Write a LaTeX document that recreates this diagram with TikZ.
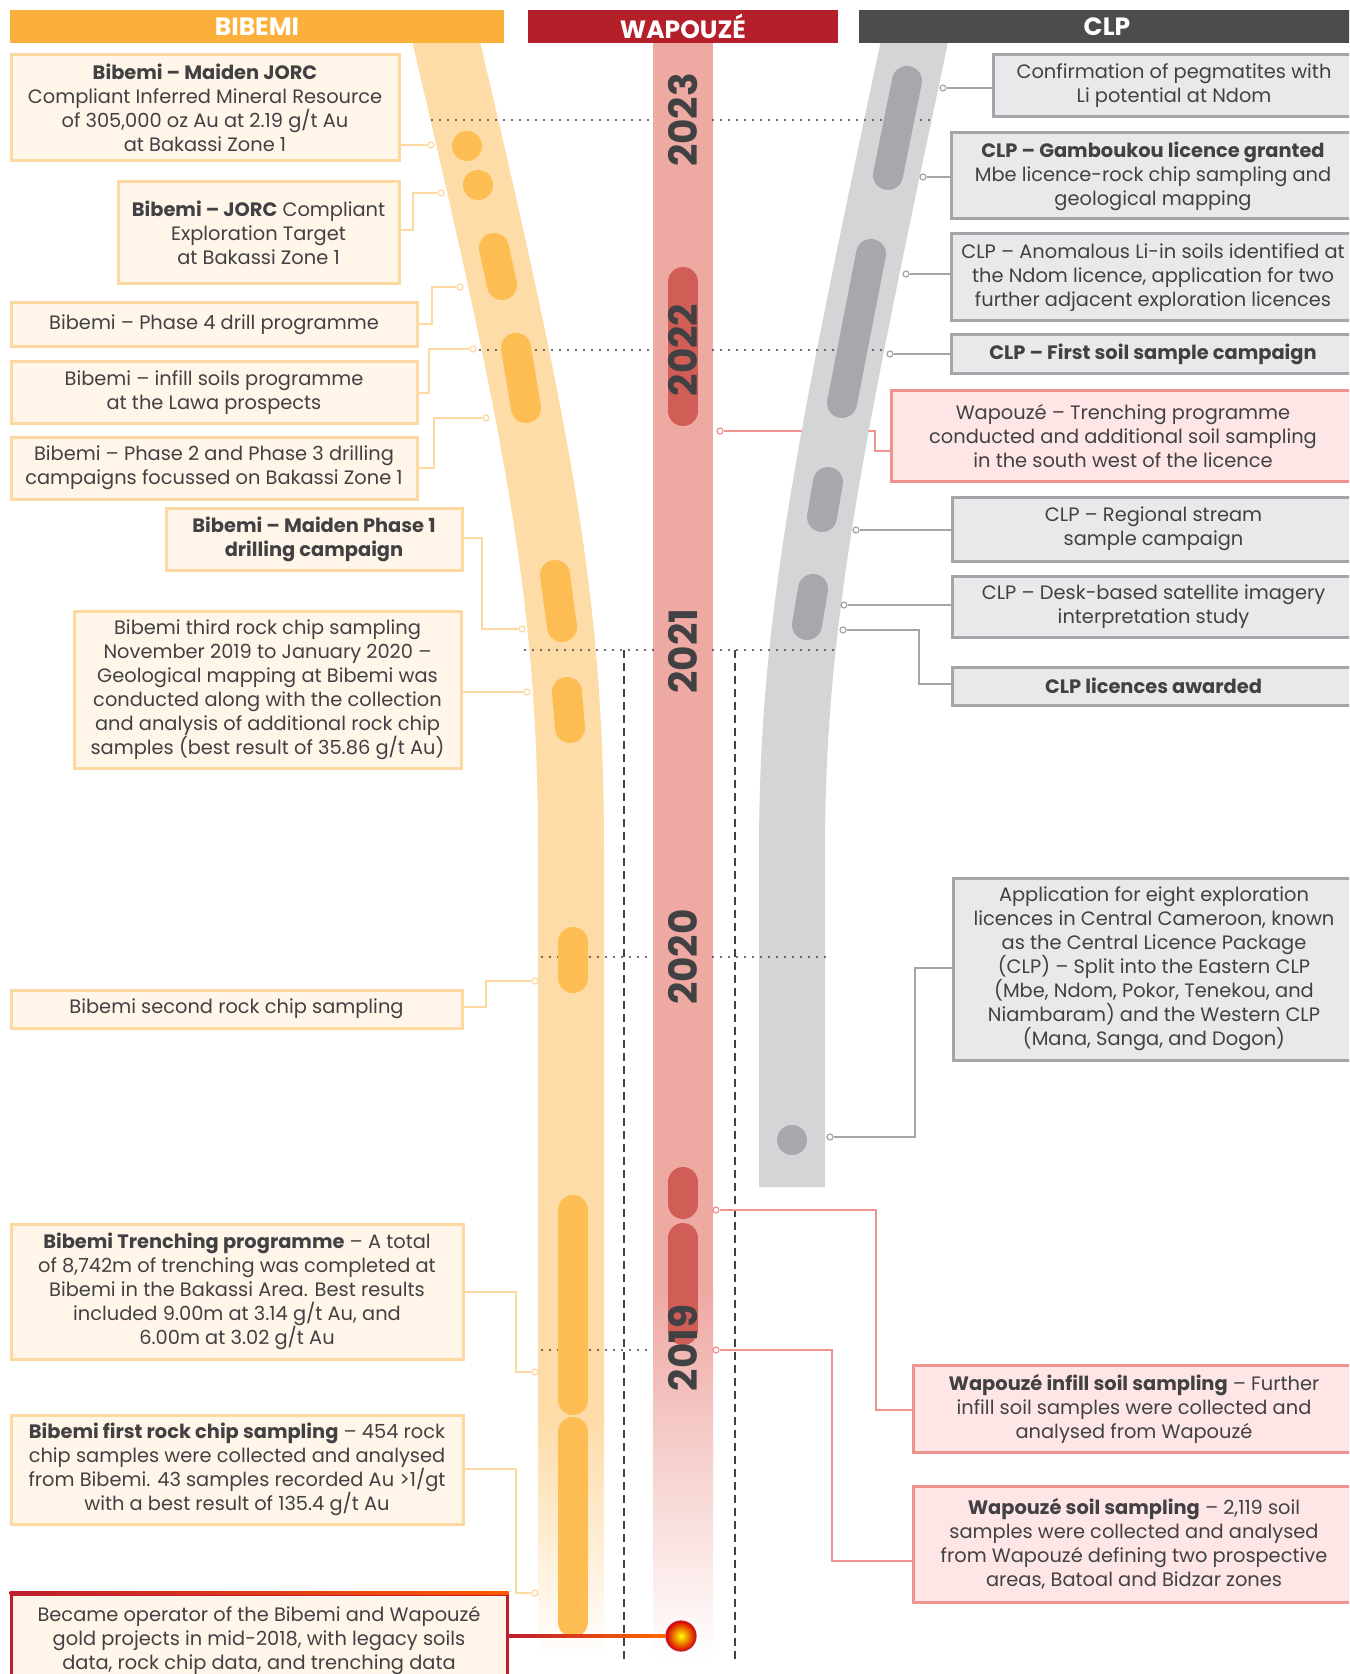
\documentclass[tikz,border=0pt]{standalone}
\usepackage{fontspec}
\setmainfont{Poppins}
\usetikzlibrary{calc}
\definecolor{cO}{HTML}{FBB03B}
\definecolor{cW}{HTML}{B41F29}
\definecolor{cG}{HTML}{4B4C4E}
\definecolor{bandO}{HTML}{FEDCA8}
\definecolor{capO}{HTML}{FDBD52}
\definecolor{bandR}{HTML}{EEA9A3}
\definecolor{capR}{HTML}{D15E56}
\definecolor{bandG}{HTML}{D4D5D7}
\definecolor{capG}{HTML}{A6A8AB}
\definecolor{fO}{HTML}{FFF5E9}
\definecolor{lO}{HTML}{FDD9A1}
\definecolor{fR}{HTML}{FDE6E5}
\definecolor{lR}{HTML}{EE938D}
\definecolor{fG}{HTML}{E8E9EB}
\definecolor{lG}{HTML}{A3A5A8}
\definecolor{txt}{HTML}{414042}
\definecolor{cDR}{HTML}{BE1E2D}
\newcommand\bx[7]{\node[#6, minimum width={(#4-#2)*0.5pt}, minimum height={(#5-#3)*0.5pt}] (#1) at ({(#2+#4)/2},{(#3+#5)/2}) {#7};}
\begin{document}
\begin{tikzpicture}[x=0.5pt,y=-0.5pt,
 box/.style={draw, line width=1.5pt, inner sep=0pt, align=center, text=txt, font=\fontsize{9.7}{12}\selectfont},
 obox/.style={box, fill=fO, draw=lO},
 gbox/.style={box, fill=fG, draw=lG},
 pbox/.style={box, fill=fR, draw=lR},
 hdr/.style={inner sep=0pt, text=white, font=\fontsize{12.5}{13}\selectfont\bfseries},
 con/.style={line width=0.75pt},
 ocon/.style={con, draw=lO},
 gcon/.style={con, draw=lG},
 pcon/.style={con, draw=lR},
 dotn/.style={circle, inner sep=0pt, minimum size=3pt, fill=white, line width=0.6pt},
 odot/.style={dotn, draw=lO},
 gdot/.style={dotn, draw=lG},
 pdot/.style={dotn, draw=lR},
 capsule/.style={line width=15pt, line cap=round},
 yr/.style={rotate=90, text=txt, font=\fontsize{19.5}{19.5}\selectfont\bfseries, inner sep=0pt},
 dotline/.style={line width=1.2pt, line cap=round, dash pattern=on 0pt off 4pt, draw=txt},
 dsh/.style={line width=1pt, dash pattern=on 4pt off 2.5pt, draw=txt}
]
\clip (0,0) rectangle (1349,1674);
\fill[white] (0,0) rectangle (1349,1674);

% ---------- Bibemi boxes
\bx{L1}{11}{55}{399}{161}{obox}{\textbf{Bibemi – Maiden JORC}\\Compliant Inferred Mineral Resource\\of 305,000 oz Au at 2.19 g/t Au\\at Bakassi Zone 1}
\bx{L2}{118}{182}{399}{284}{obox}{\textbf{Bibemi – JORC} Compliant\\Exploration Target\\at Bakassi Zone 1}
\bx{L3}{11}{303}{417}{347}{obox}{Bibemi – Phase 4 drill programme}
\bx{L4}{11}{362}{417}{423}{obox}{Bibemi – infill soils programme\\at the Lawa prospects}
\bx{L5}{11}{437}{417}{499}{obox}{Bibemi – Phase 2 and Phase 3 drilling\\campaigns focussed on Bakassi Zone 1}
\bx{L6}{166}{508}{462}{570}{obox}{\textbf{Bibemi – Maiden Phase 1}\\\textbf{drilling campaign}}
\bx{L7}{74}{611}{461}{768}{obox}{Bibemi third rock chip sampling\\November 2019 to January 2020 –\\Geological mapping at Bibemi was\\conducted along with the collection\\and analysis of additional rock chip\\samples (best result of 35.86 g/t Au)}
\bx{L8}{11}{990}{462}{1028}{obox}{Bibemi second rock chip sampling}
\bx{L9}{11}{1224}{463}{1359}{obox}{\textbf{Bibemi Trenching programme} – A total\\of 8,742m of trenching was completed at\\Bibemi in the Bakassi Area. Best results\\included 9.00m at 3.14 g/t Au, and\\6.00m at 3.02 g/t Au}
\bx{L10}{11}{1415}{463}{1524}{obox}{\textbf{Bibemi first rock chip sampling} – 454 rock\\chip samples were collected and analysed\\from Bibemi. 43 samples recorded Au >1/gt\\with a best result of 135.4 g/t Au}
\bx{L11}{11}{1594}{507}{1688}{obox, draw=cDR}{Became operator of the Bibemi and Wapouzé\\gold projects in mid-2018, with legacy soils\\data, rock chip data, and trenching data}
\shade[left color=cDR, middle color=yellow!80!orange, right color=orange!70!red] ($(L11.north west)+(0,-1.5)$) rectangle ($(L11.north east)+(0,1.5)$);

% ---------- right boxes
\bx{R1}{993}{55}{1355}{117}{gbox}{Confirmation of pegmatites with\\Li potential at Ndom}
\bx{R2}{951}{133}{1355}{219}{gbox}{\textbf{CLP – Gamboukou licence granted}\\Mbe licence-rock chip sampling and\\geological mapping}
\bx{R3}{951}{234}{1355}{321}{gbox}{CLP – Anomalous Li-in soils identified at\\the Ndom licence, application for two\\further adjacent exploration licences}
\bx{R4}{951}{335}{1355}{373}{gbox}{\textbf{CLP – First soil sample campaign}}
\bx{R5}{891}{390}{1355}{481}{pbox}{Wapouzé – Trenching programme\\conducted and additional soil sampling\\in the south west of the licence}
\bx{R6}{952}{497}{1355}{561}{gbox}{CLP – Regional stream\\sample campaign}
\bx{R7}{952}{576}{1355}{637}{gbox}{CLP – Desk-based satellite imagery\\interpretation study}
\bx{R8}{952}{667}{1355}{705}{gbox}{\textbf{CLP licences awarded}}
\bx{R9}{953}{878}{1355}{1060}{gbox}{Application for eight exploration\\licences in Central Cameroon, known\\as the Central Licence Package\\(CLP) – Split into the Eastern CLP\\(Mbe, Ndom, Pokor, Tenekou, and\\Niambaram) and the Western CLP\\(Mana, Sanga, and Dogon)}
\bx{R10}{913}{1365}{1355}{1452}{pbox}{\textbf{Wapouzé infill soil sampling} – Further\\infill soil samples were collected and\\analysed from Wapouzé}
\bx{R11}{913}{1486}{1355}{1602}{pbox}{\textbf{Wapouzé soil sampling} – 2,119 soil\\samples were collected and analysed\\from Wapouzé defining two prospective\\areas, Batoal and Bidzar zones}

% connector behind grey band
\node[pdot] (p5) at (720,431) {};
\draw[pcon] (R5.west |- 0,451) -- (875,451) |- (p5);

% ---------- bands
\fill[bandR] (653,30) rectangle (713,1290);
\shade[top color=bandR, bottom color=white] (653,1289) rectangle (713,1660);
\draw[line width=33pt, bandO] (441,20) .. controls (540,440) and (571,600) .. (571,850) -- (571,1420);
\shade[top color=bandO, bottom color=white] (538,1419) rectangle (604,1660);
\draw[line width=33pt, bandG] (919,20) .. controls (830,440) and (792,620) .. (792,850) -- (792,1187);

% ---------- year dotted lines
\draw[dotline] (432,120) -- (653,120); \draw[dotline] (713,120) -- (935,120);
\draw[dotline] (480,350) -- (653,350); \draw[dotline] (713,350) -- (886,350);
\draw[dotline] (525,650) -- (653,650); \draw[dotline] (713,650) -- (838,650);
\draw[dotline] (542,957) -- (653,957); \draw[dotline] (713,957) -- (827,957);
\draw[dotline] (542,1350) -- (653,1350);
\draw[dsh] (624,650) -- (624,1660);
\draw[dsh] (735,650) -- (735,1660);

% ---------- capsules
\fill[capO] (467,146) circle (7.5pt);
\fill[capO] (478,185) circle (7.5pt);
\draw[capsule, capO] (494,248) -- (502,285);
\draw[capsule, capO] (516,348) -- (526,408);
\draw[capsule, capO] (555,575) -- (562,627);
\draw[capsule, capO] (567,692) -- (570,728);
\draw[capsule, capO] (573,942) -- (573,978);
\draw[capsule, capO] (573,1210) -- (573,1400);
\draw[capsule, capO] (573,1432) -- (573,1622);
\draw[capsule, capG] (907,81) -- (888,175);
\draw[capsule, capG] (871,254) -- (842,403);
\draw[capsule, capG] (828,482) -- (822,517);
\draw[capsule, capG] (813,589) -- (807,625);
\fill[capG] (792,1140) circle (7.5pt);
\draw[capsule, capR] (683,282) -- (683,411);
\draw[capsule, capR] (683,1182) -- (683,1204);
\draw[capsule, capR] (683,1238) -- (683,1330);

% ---------- connectors
\node[odot] (d1) at (431,145) {};
\draw[ocon] (L1.east |- d1) -- (d1);
\node[odot] (d2) at (441,193) {};
\draw[ocon] (L2.east |- 0,230) -- (413,230) |- (d2);
\node[odot] (d3) at (460,287) {};
\draw[ocon] (L3.east |- 0,324) -- (432,324) |- (d3);
\node[odot] (d4) at (473,349) {};
\draw[ocon] (L4.east |- 0,393) -- (429,393) |- (d4);
\node[odot] (d5) at (486,418) {};
\draw[ocon] (L5.east |- 0,468) -- (434,468) |- (d5);
\node[odot] (d6) at (522,629) {};
\draw[ocon] (L6.east |- 0,538) -- (482,538) |- (d6);
\node[odot] (d7) at (527,692) {};
\draw[ocon] (L7.east |- d7) -- (d7);
\node[odot] (d8) at (535,981) {};
\draw[ocon] (L8.east |- 0,1007) -- (486,1007) |- (d8);
\node[odot] (d9) at (535,1372) {};
\draw[ocon] (L9.east |- 0,1292) -- (516,1292) |- (d9);
\node[odot] (d10) at (535,1593) {};
\draw[ocon] (L10.east |- 0,1469) -- (516,1469) |- (d10);

\node[gdot] (e1) at (943,88) {};
\draw[gcon] (R1.west |- e1) -- (e1);
\node[gdot] (e2) at (923,177) {};
\draw[gcon] (R2.west |- e2) -- (e2);
\node[gdot] (e3) at (906,274) {};
\draw[gcon] (R3.west |- e3) -- (e3);
\node[gdot] (e4) at (890,354) {};
\draw[gcon] (R4.west |- e4) -- (e4);
\node[gdot] (e6) at (856,530) {};
\draw[gcon] (R6.west |- e6) -- (e6);
\node[gdot] (e7) at (844,605) {};
\draw[gcon] (R7.west |- e7) -- (e7);
\node[gdot] (e8) at (843,630) {};
\draw[gcon] (R8.west |- 0,684) -- (919,684) |- (e8);
\node[gdot] (e9) at (830,1137) {};
\draw[gcon] (R9.west |- 0,968) -- (915,968) |- (e9);

\node[pdot] (p10) at (716,1210) {};
\draw[pcon] (R10.west |- 0,1410) -- (876,1410) |- (p10);
\node[pdot] (p11) at (716,1350) {};
\draw[pcon] (R11.west |- 0,1561) -- (832,1561) |- (p11);

% ---------- years
\node[yr] (y23) at (683,120) {2023};
\node[yr] (y22) at (683,350) {2022};
\node[yr] (y21) at (683,651) {2021};
\node[yr] (y20) at (683,957) {2020};
\node[yr] (y19) at (683,1348) {2019};

% ---------- headers
\bx{hB}{10}{10}{504}{43}{hdr, fill=cO}{BIBEMI}
\bx{hW}{528}{10}{838}{43}{hdr, fill=cW}{WAPOUZÉ}
\bx{hC}{859}{10}{1355}{43}{hdr, fill=cG}{CLP}

% ---------- start
\node[circle, minimum size=15pt, inner sep=0pt, draw=cDR, line width=0.6pt, inner color=yellow, outer color=red!85!black] (start) at (681,1636) {};
\shade[left color=cDR, middle color=yellow, right color=orange!80!red] (L11.east |- 0,1634.5) rectangle (start.west |- 0,1637.5);
\end{tikzpicture}
\end{document}
